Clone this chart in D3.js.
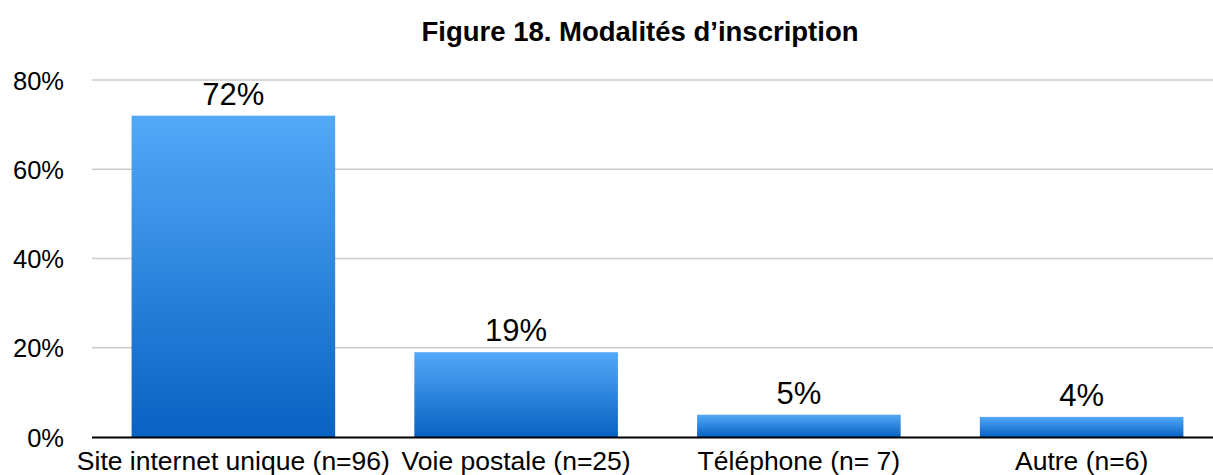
<!DOCTYPE html>
<html>
<head>
<meta charset="utf-8">
<script src="https://cdn.jsdelivr.net/npm/d3@7"></script>
<style>
  body { margin: 0; background: #fff; }
  text { font-family: "Liberation Sans", Arial, Helvetica, sans-serif; fill: #000; }
</style>
</head>
<body>
<div id="chart"></div>
<script>
// Data
const categories = ["Site internet unique (n=96)", "Voie postale (n=25)", "Téléphone (n= 7)", "Autre (n=6)"];
const values = [72, 19, 5, 4.5];
const valueLabels = ["72%", "19%", "5%", "4%"];
const yTicks = [0, 20, 40, 60, 80];

const W = 1213, H = 475;

const svg = d3.select("#chart")
    .append("svg")
    .attr("width", W)
    .attr("height", H);

// Gradient for bars
const defs = svg.append("defs");
const grad = defs.append("linearGradient")
    .attr("id", "barGrad")
    .attr("x1", 0).attr("y1", 0)
    .attr("x2", 0).attr("y2", 1);
grad.append("stop").attr("offset", "0%").attr("stop-color", "#52a9f8");
grad.append("stop").attr("offset", "100%").attr("stop-color", "#0961c3");

// Scales
const x = d3.scaleBand()
    .domain(categories)
    .range([92, 1223])
    .paddingInner(0.28)
    .paddingOuter(0.14);

const y = d3.scaleLinear()
    .domain([0, 80])
    .range([437, 80]);

// Title
svg.append("text")
    .attr("x", 640)
    .attr("y", 41)
    .attr("text-anchor", "middle")
    .style("font-size", "27.5px")
    .style("font-weight", "bold")
    .text("Figure 18. Modalités d’inscription");

// Gridlines
svg.append("g")
    .selectAll("line")
    .data(yTicks.filter(d => d > 0))
    .join("line")
    .attr("x1", 92)
    .attr("x2", W)
    .attr("y1", d => y(d))
    .attr("y2", d => y(d))
    .attr("stroke", "#cbcbcb")
    .attr("stroke-width", 1.5);

// Y axis labels
const yAxis = svg.append("g")
    .attr("transform", "translate(64,0)")
    .call(d3.axisLeft(y).tickValues(yTicks).tickFormat(d => d + "%").tickSize(0).tickPadding(0));
yAxis.select(".domain").remove();
yAxis.selectAll("text")
    .attr("dy", "0.36em")
    .style("font-size", "25.5px")
    .style("font-family", "'Liberation Sans', Arial, sans-serif")
    .attr("fill", "#000");

// Bars
svg.append("g")
    .selectAll("rect")
    .data(values)
    .join("rect")
    .attr("x", (d, i) => x(categories[i]))
    .attr("y", d => y(d))
    .attr("width", x.bandwidth())
    .attr("height", d => y(0) - y(d))
    .attr("fill", "url(#barGrad)");

// Value labels
svg.append("g")
    .selectAll("text")
    .data(values)
    .join("text")
    .attr("x", (d, i) => x(categories[i]) + x.bandwidth() / 2)
    .attr("y", d => y(d) - 11)
    .attr("text-anchor", "middle")
    .style("font-size", "31px")
    .text((d, i) => valueLabels[i]);

// Baseline
svg.append("line")
    .attr("x1", 92)
    .attr("x2", W)
    .attr("y1", y(0) + 0.5)
    .attr("y2", y(0) + 0.5)
    .attr("stroke", "#000")
    .attr("stroke-width", 2);

// X axis labels
const xAxis = svg.append("g")
    .attr("transform", `translate(0,${y(0)})`)
    .call(d3.axisBottom(x).tickSize(0).tickPadding(0));
xAxis.select(".domain").remove();
xAxis.selectAll("text")
    .attr("y", 33)
    .attr("dy", 0)
    .style("font-size", "26.5px")
    .style("font-family", "'Liberation Sans', Arial, sans-serif")
    .attr("fill", "#000");
</script>
</body>
</html>
